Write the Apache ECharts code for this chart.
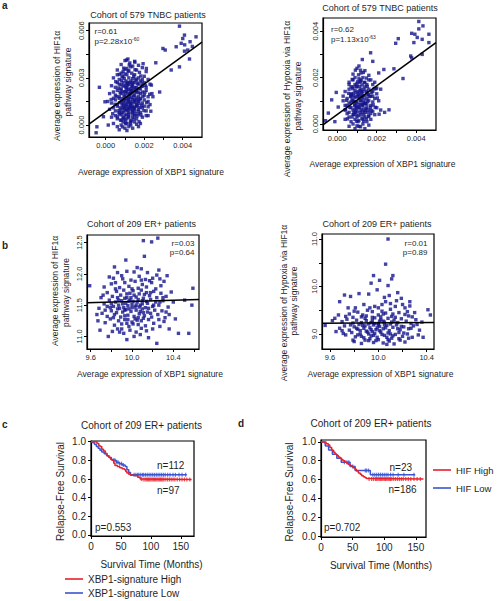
<!DOCTYPE html>
<html><head><meta charset="utf-8">
<script src="https://cdn.jsdelivr.net/npm/echarts@6/dist/echarts.min.js"></script>
<style>html,body{margin:0;padding:0;background:#fff}#chart{width:498px;height:601px}</style>
</head><body><div id="chart"></div>
<script>
// ---------- DATA ----------
// Panel a (left): XBP1 signature vs HIF1a pathway signature, TNBC cohort
const tnbcHifCore = [
[.0010,.0041],[.00125,.00395],[.0015,.00405],[.0008,.00385],[.0017,.0038],[.00115,.0042],[.0014,.00375],
[.0006,.0035],[.0009,.0034],[.0011,.0036],[.00135,.0033],[.0016,.0035],[.0019,.00365],[.0012,.00345],[.0008,.0033],[.0021,.0034],[.0013,.0037],[.0010,.00355],[.00175,.00335],
[.0004,.0030],[.0007,.0029],[.0009,.0031],[.00105,.0028],[.0012,.0030],[.0014,.00295],[.0015,.0032],[.0017,.0030],[.0018,.0028],[.0020,.0031],[.0011,.0032],[.0013,.0028],[.0022,.0029],[.0006,.0032],[.0016,.00285],[.00085,.00305],[.0019,.0029],[.0010,.00325],[.00145,.0031],
[.0003,.0025],[.0005,.0024],[.0007,.0026],[.0008,.0023],[.0009,.0027],[.0010,.0025],[.0011,.0024],[.0012,.0026],[.0013,.0023],[.0014,.0025],[.0015,.0027],[.0016,.0024],[.0017,.0026],[.0018,.0023],[.0019,.0025],[.0020,.0027],[.0021,.0024],[.0023,.0026],[.00105,.00235],[.00125,.0027],[.0006,.0027],[.00145,.0023],[.0008,.00255],[.00115,.00255],[.00165,.00265],[.00135,.00245],
[.0002,.0020],[.0004,.0021],[.0005,.0019],[.0006,.0022],[.0007,.0018],[.0008,.0020],[.0009,.0021],[.0010,.0019],[.0011,.0022],[.0012,.0018],[.0013,.0020],[.0014,.0021],[.0015,.0019],[.0016,.0022],[.0017,.0018],[.0018,.0020],[.0019,.0021],[.0020,.0019],[.0021,.0022],[.0022,.0018],[.00095,.00185],[.00115,.0020],[.00135,.0022],[.00155,.0021],[.0024,.0020],[.00075,.00205],[.00105,.0021],[.00125,.00195],[.00145,.00185],[.0017,.00205],
[.0001,.0015],[.0003,.0014],[.0005,.0016],[.0006,.0013],[.0007,.0017],[.0008,.0015],[.0009,.0014],[.0010,.0016],[.0011,.0013],[.0012,.0017],[.0013,.0015],[.0014,.0014],[.0015,.0016],[.0016,.0013],[.0017,.0015],[.0018,.0017],[.0019,.0014],[.0020,.0016],[.0022,.0015],[.00085,.0013],[.00105,.0017],[.0012,.00145],[.0014,.00165],[.0023,.0013],[.0004,.0017],[.00095,.00155],[.00115,.0015],[.0013,.00135],[.00155,.00145],[.00165,.0016],
[.0002,.0010],[.0004,.0011],[.0005,.0009],[.0006,.0012],[.0007,.0008],[.0008,.0010],[.0009,.0011],[.0010,.0009],[.0011,.0012],[.0012,.0008],[.0013,.0010],[.0014,.0011],[.0015,.0009],[.0016,.0012],[.0017,.0010],[.0018,.0008],[.0019,.0011],[.0021,.0009],[.0009,.0008],[.0011,.0010],[.0013,.0012],[.0015,.0011],[.0020,.0012],[.0010,.00115],[.0012,.00105],[.0014,.0009],[.00075,.0011],
[.0003,.0005],[.0005,.0006],[.0006,.0004],[.0007,.0007],[.0008,.0003],[.0009,.0005],[.0010,.0006],[.0011,.0004],[.0012,.0007],[.0013,.0003],[.0014,.0005],[.0015,.0006],[.0016,.0004],[.0017,.0007],[.0019,.0005],[.0021,.0006],[.0010,.00035],[.0012,.0005],[.0008,.00065],[.0014,.0007],
[.0004,.0001],[.0006,-.0001],[.0008,0],[.0009,.0002],[.0010,-.0002],[.0011,.0001],[.0012,-.0001],[.0013,0],[.0015,.0002],[.0017,-.0001],[.0018,.0001],[.0007,-.0003],[.0014,-.0002],[.0011,-.00035],[.0016,.00005],
[.00072,.00142],[.00088,.00168],[.00093,.00122],[.00102,.00138],[.00118,.00162],[.00127,.00128],[.00133,.00176],[.00142,.00118],[.00148,.00152],[.00158,.00172],[.00163,.00122],[.00172,.00138],[.00178,.00162],[.00186,.00126],[.00193,.00182],[.00068,.00092],[.00083,.00078],[.00097,.00102],[.00108,.00068],[.00113,.00094],[.00122,.00112],[.00138,.00082],[.00147,.00104],[.00153,.00072],[.00168,.00088],[.00177,.00112],[.00183,.00064],[.00056,.00182],[.00066,.00236],[.00079,.00222],[.00091,.00248],[.00099,.00212],[.00109,.00262],[.00119,.00228],[.00128,.00214],[.00137,.00262],[.00152,.00238],[.00161,.00212],[.00174,.00232],[.00188,.00246],[.00203,.00208],[.00082,.00282],[.00096,.00296],[.00112,.00272],[.00141,.00272],[.00156,.00292],[.00188,.00268],[.00061,.00052],[.00077,.00032],[.00092,.00042],[.00104,.00018],[.00118,.00056],[.00132,.00024],[.00146,.00038],[.00163,.00058],[.00173,.00022],[.00087,-.00012],[.00102,.00008],[.00127,.00012],[.00048,.00132],[.00036,.00072],[.00028,.00162],[.00198,.00092],[.00212,.00142],[.00228,.00196],[.00206,.00252],[.00234,.00088],[.00052,.00276],[.00116,.00342],[.00152,.00352],[.00182,.00312],[.00071,.00322],[.00122,.00382],[.00093,.00362]
];
const tnbcHifOutliers = [
[.00383,.00629],[.00409,.00572],[.00469,.00561],[.00438,.0053],[.00392,.0052],[.00366,.00498],[.00426,.00477],[.00409,.0047],[.00435,.0042],[.00383,.0037],[.00297,.00487],[.00309,.00477],[.0034,.0035],[.0026,.00396],[.00211,.0036],[.0045,.0050],[.0040,.0055],[.0041,.0051],
[-.00033,.0024],[-.00046,-.00011],[-.0005,-.00049],[-.00004,.00148],[-.00012,.00053],[.00013,0],[.00245,.0018],[.00237,.00254],[.0022,.00116],[.0022,.0006],[.00194,.0039],[.00151,.0040],[.00108,.00413],[.0028,.0021]
];
const tnbcHifFit = [[-.00087,.00006],[.0050,.00527]];

// Panel a (right): XBP1 signature vs Hypoxia via HIF1a pathway signature, TNBC cohort
const tnbcHypCore = [
[.0010,.0024],[.0012,.0022],[.0008,.00215],[.0014,.0023],[.0011,.0025],[.0016,.0021],
[.0006,.0018],[.0008,.0019],[.0010,.00175],[.0012,.00185],[.0013,.0020],[.0015,.0017],[.0017,.0019],[.0009,.0020],[.0011,.00195],[.0014,.0018],[.0019,.0018],
[.0004,.0014],[.0006,.0015],[.0007,.0013],[.0009,.00145],[.0010,.0016],[.0011,.0013],[.0012,.0015],[.0013,.0014],[.0014,.0016],[.0015,.00135],[.0016,.0015],[.0018,.0014],[.0020,.00155],[.0008,.0016],[.00105,.0014],[.00125,.0013],
[.0003,.0010],[.0005,.0011],[.0006,.0009],[.0007,.0012],[.0008,.0010],[.0009,.00115],[.0010,.00095],[.0011,.0011],[.0012,.0010],[.0013,.0012],[.0014,.0009],[.0015,.0011],[.0016,.0010],[.0017,.0012],[.0018,.00095],[.0019,.0011],[.0021,.0010],[.00095,.0009],[.00115,.0012],[.00135,.00105],[.00155,.00125],[.00075,.00105],
[.0004,.0006],[.0005,.0008],[.0006,.0005],[.0007,.0007],[.0008,.0006],[.0009,.0008],[.0010,.00055],[.0011,.0007],[.0012,.0006],[.0013,.0008],[.0014,.0005],[.0015,.0007],[.0016,.0006],[.0017,.0008],[.0018,.00055],[.0020,.0007],[.0010,.00075],[.0012,.00085],[.00085,.0005],[.00145,.00065],[.0022,.0006],
[.0004,.0002],[.0006,.0003],[.0007,.0001],[.0008,.0004],[.0009,.0002],[.0010,.0003],[.0011,.00015],[.0012,.0004],[.0013,.0002],[.0014,.0003],[.0015,.0001],[.0016,.00035],[.0017,.0002],[.0019,.0004],[.00105,.0001],[.00125,.00025],
[.0006,-.0001],[.0008,0],[.0009,-.0002],[.0011,-.0001],[.0013,0],[.0014,-.0002],[.0016,-.00005],[.0010,-.00008],
[.00085,.0012],[.00105,.00125],[.00125,.00115],[.00095,.00135],[.00115,.00145],[.00135,.0015],[.0007,.00095],[.0009,.00065],[.0011,.00085],[.0013,.00065],[.0015,.00085],[.0017,.00045],[.0005,.00045],[.00075,.0003],[.00095,.0004],[.00115,.0005],[.00135,.0004],[.00155,.0005],[.0018,.0012],[.0020,.0013],[.0004,.0008],[.0003,.0012],[.0022,.0015],[.0006,.0017],[.00115,.0018],[.0016,.0019],[.0018,.0017],[.0007,.0016],[.0012,.0019],[.0009,.0017],
[.00072,.00126],[.00088,.00082],[.00093,.00052],[.00102,.00118],[.00108,.00036],[.00112,.00072],[.00118,.00102],[.00122,.00138],[.00128,.00052],[.00132,.00092],[.00138,.00122],[.00142,.00058],[.00147,.00142],[.00152,.00098],[.00158,.00032],[.00163,.00118],[.00168,.00072],[.00174,.00136],[.00182,.00082],[.00187,.00152],[.00064,.00072],[.00068,.00118],[.00078,.00152],[.00083,.00042],[.00086,.00098],[.00097,.00162],[.00104,.00182],[.00113,.00162],[.00126,.00168],[.00137,.00178],[.00152,.00162],[.00058,.00132],[.00048,.00102],[.00042,.00062],[.00052,.00022],[.00098,.00012],[.00118,-.00012],[.00134,.00012],[.00148,.00022],[.00172,.00058],[.00192,.00072],[.00203,.00112],[.00212,.00042],[.00196,.00152],[.00108,.00212],[.00132,.00222],[.00092,.00232],[.00148,.00198],[.00076,.00192],[.00118,.00232],[.00082,.00132],[.00128,.00082],[.00098,.00068],[.00142,.00088],[.00158,.00128]
];
const tnbcHypOutliers = [
[.00413,.00442],[.00434,.00423],[.00377,.00391],[.00393,.00387],[.00413,.0041],[.00464,.00387],[.00405,.00373],[.0043,.00365],[.00388,.00351],[.00464,.00351],[.00309,.00368],[.00296,.00348],[.00372,.00293],[.0043,.0030],[.00377,.00285],[.00333,.00196],[.00287,.00238],[.00169,.00307],[.00236,.00235],[.00127,.00278],
[-.00045,.00047],[-.00059,.00014],[-.00028,.00104],[-.00005,.00136],[.00005,.00073],[-.00012,.0001],[.00262,.00061],[.0024,.0005],[.0018,.0027],[.0021,.0022]
];
const tnbcHypFit = [[-.00072,-.00004],[.0050,.00351]];

// Panel b (left): ER+ cohort, HIF1a pathway signature
const erHif = [
[10.11,12.53],[10.25,12.57],[10.19,12.51],[9.94,12.22],[10.09,12.08],[10.26,12.06],[10.24,11.98],[10.34,11.97],[9.82,11.93],[10.59,11.77],[9.59,11.81],[9.72,11.66],[9.74,11.42],[10.55,11.05],[10.45,11.05],[9.88,11.07],[10.08,11.03],[10.24,10.89],[9.77,11.00],[10.58,11.50],[10.12,12.28],[9.83,12.11],[10.36,11.35],[10.51,11.58],[9.66,11.35],[9.67,11.25],[9.70,11.62],[9.68,11.45],
[9.86,12.02],[9.95,12.04],[10.02,12.03],[10.07,11.96],[10.15,12.02],[9.91,11.92],[10.20,11.93],[9.99,11.90],[10.13,11.91],
[9.80,11.84],[9.88,11.78],[9.93,11.86],[9.97,11.80],[10.03,11.88],[10.06,11.77],[10.10,11.83],[10.14,11.79],[10.19,11.86],[10.23,11.76],[10.28,11.81],[10.31,11.88],[9.84,11.76],[10.00,11.76],[10.17,11.89],
[9.76,11.70],[9.81,11.64],[9.85,11.72],[9.89,11.66],[9.92,11.74],[9.95,11.62],[9.98,11.69],[10.01,11.73],[10.04,11.63],[10.07,11.68],[10.09,11.74],[10.11,11.61],[10.14,11.70],[10.17,11.65],[10.21,11.72],[10.24,11.62],[10.28,11.69],[10.33,11.64],[10.38,11.71],[9.93,11.61],[10.02,11.66],[10.12,11.67],
[9.73,11.52],[9.78,11.58],[9.82,11.48],[9.84,11.55],[9.87,11.50],[9.90,11.57],[9.92,11.46],[9.94,11.53],[9.96,11.49],[9.98,11.58],[10.00,11.51],[10.03,11.47],[10.05,11.55],[10.08,11.50],[10.10,11.57],[10.13,11.46],[10.15,11.53],[10.18,11.59],[10.20,11.48],[10.23,11.55],[10.26,11.50],[10.30,11.57],[10.35,11.47],[9.88,11.45],[9.97,11.56],[10.06,11.59],[10.16,11.45],[9.80,11.52],[9.91,11.52],[10.01,11.56],
[9.71,11.37],[9.76,11.32],[9.80,11.41],[9.83,11.35],[9.86,11.44],[9.89,11.31],[9.91,11.39],[9.94,11.43],[9.96,11.34],[9.99,11.40],[10.02,11.32],[10.04,11.42],[10.07,11.36],[10.10,11.44],[10.12,11.33],[10.15,11.39],[10.19,11.31],[10.22,11.42],[10.25,11.35],[10.29,11.41],[10.32,11.30],[9.97,11.44],[10.06,11.30],[9.85,11.38],
[9.74,11.22],[9.79,11.28],[9.83,11.18],[9.87,11.25],[9.90,11.20],[9.93,11.27],[9.97,11.16],[10.00,11.23],[10.03,11.28],[10.06,11.19],[10.09,11.25],[10.13,11.17],[10.16,11.27],[10.21,11.21],[10.27,11.16],[10.31,11.24],[9.95,11.21],[10.11,11.29],
[9.81,11.08],[9.86,11.12],[9.92,11.05],[9.98,11.10],[10.04,11.07],[10.09,11.13],[10.14,11.09],[10.20,11.12],[10.02,11.00],
[9.78,11.95],[10.27,11.92],[9.90,11.97],[10.05,12.10],[9.73,11.79],[10.40,11.55],[10.42,11.28],[9.69,11.10],[10.36,11.12],[9.95,10.95],[10.16,10.98],[10.30,11.62],[9.79,11.46],[10.08,11.40],[9.93,11.33],[10.00,11.46],[10.10,11.52],[9.86,11.62],[10.18,11.37],[10.05,11.26],
[9.87,11.58],[9.93,11.42],[10.04,11.50],[10.11,11.38],[9.99,11.62],[10.07,11.47],[9.95,11.68],[10.14,11.56],[9.82,11.30],[10.21,11.50],[10.26,11.27],[9.90,11.12],[10.01,11.20],[10.18,11.70],[9.84,11.86],[10.27,11.55],[10.33,11.39],[9.76,11.48],[10.09,11.90],[9.96,11.27]
];
const erHifFit = [[9.564,11.54],[10.649,11.59]];

// Panel b (right): ER+ cohort, Hypoxia via HIF1a pathway signature
const erHyp = [
[10.08,11.00],[10.06,10.47],[9.96,10.23],[10.12,10.23],[10.11,10.16],[10.01,10.13],[9.94,10.07],[9.99,9.93],[9.92,9.84],[9.84,9.85],[9.77,9.79],[9.68,9.68],[9.72,9.82],[10.06,9.68],[10.15,9.70],[10.26,9.68],[10.26,9.59],[10.41,9.51],[10.43,9.40],[10.37,8.93],[9.56,9.18],[9.67,9.40],[9.71,9.01],[10.19,9.75],[10.05,9.77],[10.22,9.55],[9.88,9.62],[10.16,9.87],[9.93,9.55],[10.03,9.62],[10.08,10.02],[10.09,9.81],[9.79,8.87],[10.25,8.91],
[9.76,9.42],[9.83,9.46],[9.90,9.38],[9.95,9.47],[10.00,9.40],[10.06,9.44],[10.11,9.37],[10.17,9.45],[10.22,9.41],[10.28,9.36],[9.86,9.36],[10.03,9.48],
[9.70,9.26],[9.74,9.31],[9.79,9.23],[9.82,9.29],[9.86,9.24],[9.89,9.33],[9.92,9.21],[9.95,9.28],[9.97,9.34],[10.00,9.22],[10.02,9.30],[10.05,9.25],[10.08,9.33],[10.10,9.21],[10.13,9.29],[10.16,9.24],[10.19,9.32],[10.23,9.27],[10.27,9.22],[10.31,9.30],[9.94,9.24],[10.04,9.27],[9.84,9.20],
[9.68,9.12],[9.72,9.17],[9.76,9.08],[9.80,9.15],[9.83,9.10],[9.87,9.18],[9.90,9.06],[9.93,9.13],[9.96,9.19],[9.98,9.09],[10.01,9.16],[10.04,9.11],[10.07,9.18],[10.09,9.07],[10.12,9.14],[10.15,9.19],[10.18,9.09],[10.21,9.15],[10.25,9.11],[10.29,9.17],[10.34,9.08],[9.95,9.05],[10.06,9.13],[9.88,9.12],[10.00,9.19],
[9.73,8.98],[9.78,9.03],[9.81,8.94],[9.85,9.00],[9.88,8.92],[9.91,9.04],[9.94,8.96],[9.97,9.01],[9.99,8.93],[10.02,9.04],[10.05,8.97],[10.08,9.02],[10.11,8.91],[10.14,8.99],[10.17,9.03],[10.20,8.95],[10.24,9.00],[10.28,8.93],[10.33,8.98],[9.93,8.90],[10.03,8.99],
[9.80,8.84],[9.86,8.80],[9.92,8.86],[9.96,8.82],[10.00,8.88],[10.04,8.81],[10.09,8.85],[10.13,8.79],[10.18,8.87],[10.22,8.83],[9.89,8.87],[10.07,8.78],
[9.62,9.28],[9.65,9.05],[9.64,9.33],
[9.81,9.55],[9.97,9.58],[10.10,9.52],[10.20,9.62],[9.75,9.55],[9.91,9.50],[10.14,9.58],[10.30,9.45],[9.99,9.13],[10.02,9.36],[9.85,9.07],[10.12,9.42],[9.90,9.28],[10.07,8.93],[9.96,8.97],[10.16,9.11],[9.79,9.35],[10.25,9.38],[9.83,8.98],[10.10,9.00],
[9.89,9.17],[9.94,9.09],[10.01,9.27],[10.05,9.19],[9.98,8.86],[10.11,9.25],[10.17,8.90],[9.82,9.12],[9.77,9.19],[10.21,9.02],[10.27,9.12],[9.87,9.40],[10.04,9.42],[9.92,9.00],[10.14,9.35],[10.32,9.20],[9.73,9.37],[10.08,8.88],[9.97,9.22],[10.19,9.16],[9.86,8.95],[10.01,9.07],[10.12,8.96],[9.95,9.35],[10.24,9.47],[9.80,9.48],[10.36,9.25],[9.70,9.07],[10.00,9.55],[10.10,9.64]
];
const erHypFit = [[9.534,9.226],[10.46,9.24]];

// Panel c: Kaplan-Meier, XBP1-signature High / Low  ([months, survival])
const xbpHigh = [[0,1],[8,1],[10,.98],[13,.96],[15,.95],[18,.92],[21,.90],[24,.875],[27,.85],[30,.83],[33,.81],[35,.80],[38,.77],[40,.745],[44,.735],[48,.72],[52,.71],[56,.70],[58,.68],[60,.665],[63,.65],[66,.64],[70,.635],[78,.62],[82,.60],[86,.595],[168,.595]];
const xbpLow = [[0,1],[3,.99],[6,.97],[9,.95],[12,.93],[15,.91],[18,.89],[22,.87],[26,.85],[30,.83],[34,.81],[37,.80],[42,.78],[47,.765],[52,.75],[57,.735],[60,.70],[63,.67],[66,.645],[160,.645]];
const xbpHighCensor = [84,87,90,92,94,96,98,100,102,104,106,108,110,112,114,116,118,120,122,125,128,131,134,137,140,144,148,152,156,160,165];
const xbpLowCensor = [38,40,43,45,48,51,54,72,75,78,80,83,86,88,91,94,97,100,103,106,109,112,115,118,121,124,128,132,137,141,147,152,158];

// Panel d: Kaplan-Meier, HIF High / Low
const hifHigh = [[0,1],[6,1],[8,.98],[11.6,.967],[14,.94],[16.9,.91],[20,.89],[22.2,.87],[25,.855],[27.4,.84],[30,.825],[32.7,.81],[35,.80],[38,.785],[41,.77],[43.2,.76],[46,.75],[48.5,.74],[51,.725],[53.8,.71],[56,.69],[59,.67],[62,.655],[64.3,.64],[67,.63],[69.6,.62],[72,.612],[74.8,.605],[162,.605]];
const hifLow = [[0,1],[6,1],[7,.957],[12,.913],[18,.87],[25,.826],[32,.783],[46,.739],[54,.696],[78,.652],[149,.652]];
const hifHighCensor = [76,80,83,86,88,90,92,94,96,98,100,102,104,106,108,110,112,115,118,121,124,127,130,134,138,142,147,152,157];
const hifLowCensor = [37,41,44,50,70,72,75,82,85,88,91,94,97,100,103,106,110,114,122,131,147];

// Tick values
const tnbcXTicks = [0,.001,.002,.003,.004], tnbcXLabels = [0,.002,.004];
const tnbcHifYTicks = [0,.0015,.003,.0045,.006], tnbcHifYLabels = [0,.003,.006];
const tnbcHypYTicks = [0,.001,.002,.003,.004], tnbcHypYLabels = [0,.002,.004];
const erHifXTicks = [9.6,9.8,10,10.2,10.4,10.6], erXLabels = [9.6,10,10.4];
const erHifYTicks = [11,11.5,12,12.5], erHifYLabels = [11,11.5,12,12.5];
const erHypXTicks = [9.6,9.8,10,10.2,10.4];
const erHypYTicks = [9,9.5,10,10.5,11], erHypYLabels = [9,10,11];
const kmXTicks = [0,50,100,150];
const kmYTicks = [0,.2,.4,.6,.8,1];

// ---------- CHART ----------
const FONT = '"Liberation Sans", Arial, Helvetica, sans-serif';
const INK = '#1f1f1f', NAVY = '#14148c', RED = '#e8202a', BLUE = '#3a55cf';

function survAt(curve, t) { let s = curve[0][1]; for (const p of curve) { if (p[0] <= t) s = p[1]; } return s; }

function axisCommon(ticks, labels, dec, fs, rotate, margin) {
  return {
    type: 'value', splitLine: { show: false },
    axisLine: { show: true, onZero: false, lineStyle: { color: '#000', width: 1.2 } },
    axisTick: { show: true, length: 3, customValues: ticks, lineStyle: { color: '#000', width: 1 } },
    axisLabel: { customValues: labels, formatter: v => Number(v).toFixed(dec), fontSize: fs, color: INK,
                 fontFamily: FONT, rotate: rotate || 0, margin: margin }
  };
}
function ax(gi, min, max, ticks, labels, dec, fs, rotate, margin) {
  return Object.assign(axisCommon(ticks, labels, dec, fs, rotate, margin), { gridIndex: gi, min: min, max: max });
}
function grid(l, t, w, h) {
  return { left: l, top: t, width: w, height: h, show: true, borderColor: '#000', borderWidth: 1.2, backgroundColor: 'transparent' };
}
function T(text, x, y, o) {
  o = o || {};
  const st = { text: text, fill: INK, fontSize: o.fs || 9, fontFamily: FONT, fontWeight: o.bold ? 'bold' : 'normal',
               align: o.align || 'center', textAlign: o.align || 'center', verticalAlign: 'middle', textVerticalAlign: 'middle' };
  if (o.rich) st.rich = o.rich;
  return { type: 'text', x: x, y: y, rotation: o.rot || 0, style: st, z: 100 };
}
const R90 = Math.PI / 2;
const supRich = { m: { fontSize: 8, fontFamily: FONT, color: INK }, s: { fontSize: 5, fontFamily: FONT, color: INK, verticalAlign: 'top', padding: [0, 0, 5, 0] } };

const scatterStyle = { symbol: 'rect', symbolSize: 3.4, itemStyle: { color: NAVY }, z: 2 };
const fitStyle = { type: 'line', showSymbol: false, lineStyle: { color: '#000', width: 1.5 }, z: 3, silent: true };
const kmLine = (name, gi, data, color) => ({ type: 'line', name: name, xAxisIndex: gi, yAxisIndex: gi, data: data, step: 'end', showSymbol: false, lineStyle: { color: color, width: 1.5 }, itemStyle: { color: color }, z: color === RED ? 4 : 3 });
const kmCens = (name, gi, curve, times, color) => ({ type: 'scatter', name: name, xAxisIndex: gi, yAxisIndex: gi, data: times.map(t => [t, survAt(curve, t)]), symbol: 'rect', symbolSize: [1.2, 4], itemStyle: { color: color }, z: color === RED ? 4 : 3 });

const chart = echarts.init(document.getElementById('chart'), null, { renderer: 'svg' });
chart.setOption({
  animation: false,
  backgroundColor: '#fff',
  textStyle: { fontFamily: FONT },
  grid: [grid(89, 23, 113, 114), grid(323, 18, 113, 112), grid(87, 235, 112, 114), grid(322, 234, 112, 115), grid(91, 441, 103, 95), grid(321, 440, 105, 97)],
  xAxis: [
    ax(0, -0.00087, 0.0050, tnbcXTicks, tnbcXLabels, 3, 7.5, 0, 4),
    ax(1, -0.00072, 0.0050, tnbcXTicks, tnbcXLabels, 3, 7.5, 0, 4),
    ax(2, 9.564, 10.649, erHifXTicks, erXLabels, 1, 7.5, 0, 4),
    ax(3, 9.534, 10.46, erHypXTicks, erXLabels, 1, 7.5, 0, 4),
    ax(4, 0, 172, kmXTicks, kmXTicks, 0, 10, 0, 5),
    ax(5, 0, 166, kmXTicks, kmXTicks, 0, 10, 0, 5)
  ],
  yAxis: [
    ax(0, -0.00076, 0.00649, tnbcHifYTicks, tnbcHifYLabels, 3, 7.5, 90, 4),
    ax(1, -0.00026, 0.00457, tnbcHypYTicks, tnbcHypYLabels, 3, 7.5, 90, 4),
    ax(2, 10.80, 12.62, erHifYTicks, erHifYLabels, 1, 7.5, 90, 4),
    ax(3, 8.683, 11.106, erHypYTicks, erHypYLabels, 1, 7.5, 90, 4),
    ax(4, -0.012, 1.008, kmYTicks, kmYTicks, 1, 10, 0, 5),
    ax(5, -0.01, 1.02, kmYTicks, kmYTicks, 1, 10, 0, 5)
  ],
  legend: [
    { data: ['XBP1-signature High', 'XBP1-signature Low'], orient: 'vertical', left: 65, top: 573, padding: 0, icon: 'rect', itemWidth: 18, itemHeight: 1.6, itemGap: 2, itemTextGap: 7,
      textStyle: { fontSize: 10, color: INK, fontFamily: FONT, lineHeight: 12 }, selectedMode: false },
    { data: ['HIF High', 'HIF Low'], orient: 'vertical', left: 433, top: 464, padding: 0, icon: 'rect', itemWidth: 18, itemHeight: 1.6, itemGap: 6, itemTextGap: 5,
      textStyle: { fontSize: 9.5, color: INK, fontFamily: FONT, lineHeight: 12 }, selectedMode: false }
  ],
  series: [
    Object.assign({ type: 'scatter', name: 'TNBC HIF1α', xAxisIndex: 0, yAxisIndex: 0, data: tnbcHifCore.concat(tnbcHifOutliers) }, scatterStyle),
    Object.assign({ name: 'TNBC HIF1α fit', xAxisIndex: 0, yAxisIndex: 0, data: tnbcHifFit }, fitStyle),
    Object.assign({ type: 'scatter', name: 'TNBC Hypoxia', xAxisIndex: 1, yAxisIndex: 1, data: tnbcHypCore.concat(tnbcHypOutliers) }, scatterStyle),
    Object.assign({ name: 'TNBC Hypoxia fit', xAxisIndex: 1, yAxisIndex: 1, data: tnbcHypFit }, fitStyle),
    Object.assign({ type: 'scatter', name: 'ER+ HIF1α', xAxisIndex: 2, yAxisIndex: 2, data: erHif }, scatterStyle),
    Object.assign({ name: 'ER+ HIF1α fit', xAxisIndex: 2, yAxisIndex: 2, data: erHifFit }, fitStyle),
    Object.assign({ type: 'scatter', name: 'ER+ Hypoxia', xAxisIndex: 3, yAxisIndex: 3, data: erHyp }, scatterStyle),
    Object.assign({ name: 'ER+ Hypoxia fit', xAxisIndex: 3, yAxisIndex: 3, data: erHypFit }, fitStyle),
    kmLine('XBP1-signature Low', 4, xbpLow, BLUE),
    kmCens('XBP1 Low censored', 4, xbpLow, xbpLowCensor, BLUE),
    kmLine('XBP1-signature High', 4, xbpHigh, RED),
    kmCens('XBP1 High censored', 4, xbpHigh, xbpHighCensor, RED),
    kmLine('HIF Low', 5, hifLow, BLUE),
    kmCens('HIF Low censored', 5, hifLow, hifLowCensor, BLUE),
    kmLine('HIF High', 5, hifHigh, RED),
    kmCens('HIF High censored', 5, hifHigh, hifHighCensor, RED)
  ],
  graphic: [
    T('a', 2, 5, { fs: 10, bold: true, align: 'left' }),
    T('b', 2, 245, { fs: 10, bold: true, align: 'left' }),
    T('c', 2, 424, { fs: 10, bold: true, align: 'left' }),
    T('d', 238, 423, { fs: 10, bold: true, align: 'left' }),
    // titles
    T('Cohort of 579 TNBC patients', 148, 15, { fs: 9 }),
    T('Cohort of 579 TNBC patients', 380, 7.5, { fs: 9 }),
    T('Cohort of 209 ER+ patients', 141.5, 224, { fs: 9 }),
    T('Cohort of 209 ER+ patients', 377, 223.5, { fs: 9 }),
    T('Cohort of 209 ER+ patients', 141.5, 425.5, { fs: 10 }),
    T('Cohort of 209 ER+ patients', 371, 423.5, { fs: 10 }),
    // x axis names
    T('Average expression of XBP1 signature', 151, 172, { fs: 8.5 }),
    T('Average expression of XBP1 signature', 382.5, 163.5, { fs: 8.5 }),
    T('Average expression of XBP1 signature', 150, 373.5, { fs: 8.5 }),
    T('Average expression of XBP1 signature', 380.5, 373.5, { fs: 8.5 }),
    T('Survival Time (Months)', 151.5, 564, { fs: 10 }),
    T('Survival Time (Months)', 381, 565, { fs: 10 }),
    // y axis names
    T('Average expression of HIF1α', 57, 86, { fs: 8.5, rot: R90 }),
    T('pathway signature', 67.5, 82, { fs: 8.5, rot: R90 }),
    T('Average expression of Hypoxia via HIF1α', 286.5, 99, { fs: 8.5, rot: R90 }),
    T('pathway signature', 297.5, 96, { fs: 8.5, rot: R90 }),
    T('Average expression of HIF1α', 55, 291, { fs: 8.5, rot: R90 }),
    T('pathway signature', 66, 292.5, { fs: 8.5, rot: R90 }),
    T('Average expression of Hypoxia via HIF1α', 283.5, 303, { fs: 8.5, rot: R90 }),
    T('pathway signature', 294, 301, { fs: 8.5, rot: R90 }),
    T('Relapse-Free Survival', 60, 491.5, { fs: 10, rot: R90 }),
    T('Relapse-Free Survival', 289.5, 492, { fs: 10, rot: R90 }),
    // statistics
    T('r=0.61', 94.5, 31, { fs: 8, align: 'left' }),
    T('{m|p=2.28x10}{s|-60}', 94.5, 41, { fs: 8, align: 'left', rich: supRich }),
    T('r=0.62', 331, 29.5, { fs: 8, align: 'left' }),
    T('{m|p=1.13x10}{s|-63}', 331, 39.5, { fs: 8, align: 'left', rich: supRich }),
    T('r=0.03', 194.5, 243, { fs: 8, align: 'right' }),
    T('p=0.64', 194.5, 252, { fs: 8, align: 'right' }),
    T('r=0.01', 427.5, 243, { fs: 8, align: 'right' }),
    T('p=0.89', 427.5, 252, { fs: 8, align: 'right' }),
    T('n=112', 157, 465.5, { fs: 10, align: 'left' }),
    T('n=97', 157, 490, { fs: 10, align: 'left' }),
    T('p=0.553', 95, 527, { fs: 10, align: 'left' }),
    T('n=23', 389.5, 467, { fs: 10, align: 'left' }),
    T('n=186', 388.5, 489.5, { fs: 10, align: 'left' }),
    T('p=0.702', 324, 527, { fs: 10, align: 'left' })
  ]
});
</script></body></html>
